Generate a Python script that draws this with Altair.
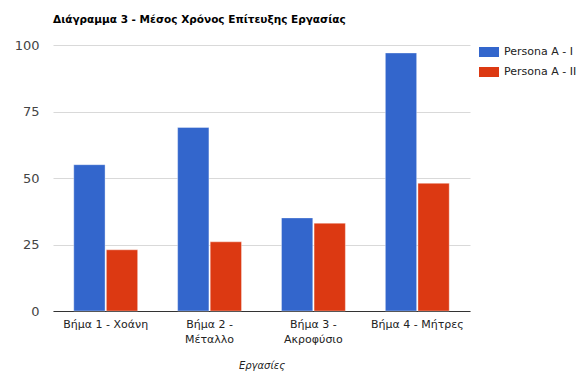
import altair as alt
import pandas as pd

categories = ["Βήμα 1 - Χοάνη", "Βήμα 2 - Μέταλλο", "Βήμα 3 - Ακροφύσιο", "Βήμα 4 - Μήτρες"]
series_names = ["Persona A - I", "Persona A - II"]
persona_i = [55, 69, 35, 97]
persona_ii = [23, 26, 33, 48]
y_ticks = [0, 25, 50, 75, 100]

rows = []
for c, a, b in zip(categories, persona_i, persona_ii):
    rows.append({"Εργασίες": c, "Σειρά": series_names[0], "Τιμή": a})
    rows.append({"Εργασίες": c, "Σειρά": series_names[1], "Τιμή": b})
df = pd.DataFrame(rows)

FONT = "DejaVu Sans"

label_expr = ("length(datum.label) > 15 ? "
              "[slice(datum.label, 0, indexof(datum.label, ' - ') + 2), "
              "slice(datum.label, indexof(datum.label, ' - ') + 3)] : datum.label")

chart = alt.Chart(df).mark_bar(stroke="white", strokeWidth=0.6, strokeOpacity=0.6).encode(
    x=alt.X("Εργασίες:N", sort=categories,
            scale=alt.Scale(paddingInner=0.385, paddingOuter=0.2),
            axis=alt.Axis(labelAngle=0, ticks=False, labelPadding=7,
                          labelExpr=label_expr, labelFontSize=11, labelColor="#222222",
                          labelFont=FONT, labelLineHeight=15,
                          domainColor="#333333", domainWidth=1,
                          title="Εργασίες", titleFontStyle="italic", titleFontWeight="normal",
                          titleFontSize=10, titleColor="#222222", titleFont=FONT,
                          titlePadding=16)),
    xOffset=alt.XOffset("Σειρά:N", sort=series_names, scale=alt.Scale(paddingInner=0.04)),
    y=alt.Y("Τιμή:Q", scale=alt.Scale(domain=[0, 100], nice=False),
            axis=alt.Axis(values=y_ticks, title=None, domain=False, ticks=False,
                          labelPadding=14, labelFontSize=13, labelColor="#444444",
                          labelFont=FONT, gridColor="#d9d9d9")),
    color=alt.Color("Σειρά:N", sort=series_names,
                    scale=alt.Scale(domain=series_names, range=["#3366cc", "#dc3912"]),
                    legend=alt.Legend(title=None, orient="none", legendX=426, legendY=-3,
                                      symbolType="M-1,-0.5H1V0.5H-1Z", symbolSize=400,
                                      symbolStrokeWidth=0, symbolOpacity=1,
                                      labelFontSize=11, labelFont=FONT, labelColor="#222222",
                                      labelOffset=5, rowPadding=5, labelLimit=200)),
).properties(
    width=417, height=266,
    background="white",
    title=alt.TitleParams("Διάγραμμα 3 - Μέσος Χρόνος Επίτευξης Εργασίας",
                          anchor="start", frame="group", fontSize=10.5, fontWeight="bold",
                          font=FONT, color="#000000", offset=14),
    autosize=alt.AutoSizeParams(type="none"),
    padding={"left": 53, "top": 45, "right": 117, "bottom": 62},
).configure_view(stroke=None)

chart.save("out.html", embed_options={"renderer": "svg", "actions": False})
